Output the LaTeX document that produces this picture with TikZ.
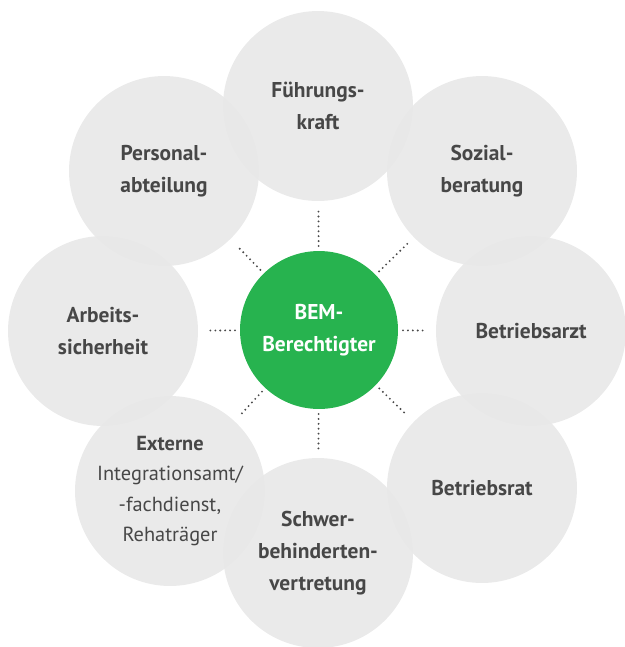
\documentclass[tikz,border=0pt]{standalone}
\usepackage{fontspec}
\setmainfont{PT Sans}
\usepackage{xcolor}
\usepackage{tikz}
\usetikzlibrary{positioning,calc}

\definecolor{bemgreen}{HTML}{27B34F}
\definecolor{bubblegray}{HTML}{E8E8E8}
\definecolor{textgray}{HTML}{474747}
\definecolor{dotgray}{HTML}{4A4A4A}

\begin{document}
\begin{tikzpicture}[
    x=0.02cm, y=-0.02cm,
    bubble/.style={circle, fill=bubblegray, fill opacity=0.9, text opacity=1,
        minimum size=3.8cm, inner sep=0pt, outer sep=0pt, align=center,
        text=textgray, font=\fontsize{12.2}{18}\selectfont\bfseries},
    bem/.style={circle, fill=bemgreen, minimum size=3.16cm, inner sep=0pt,
        outer sep=0pt, align=center, text=white,
        font=\fontsize{12.2}{18}\selectfont\bfseries},
    spoke/.style={dotgray, line width=1.2pt, dash pattern=on 0pt off 2.8pt,
        line cap=round, shorten <=0.1cm, shorten >=0.18cm}
]
\useasboundingbox (0,0) rectangle (625,647);

% Outer bubbles
\node[bubble] (fk)   at (318,106) {Führungs-\\kraft};
\node[bubble] (pers) at (164,171) {Personal-\\abteilung};
\node[bubble] (soz)  at (482,171) {Sozial-\\beratung};
\node[bubble] (arb)  at (103,331) {Arbeits-\\sicherheit};
\node[bubble] (arzt) at (531,331) {Betriebsarzt};
\node[bubble, font=\fontsize{11.6}{17.4}\selectfont] (ext) at (170,491)
    {\textbf{Externe}\\Integrationsamt/\\-fachdienst,\\Rehaträger};
\node[bubble] (rat)  at (482,488) {Betriebsrat};
\node[bubble] (sbv)  at (318,553) {Schwer-\\behinderten-\\vertretung};

% Centre
\node[bem] (bem) at (319,330) {BEM-\\Berechtigter};

% Dotted spokes
\foreach \o in {fk,soz,arzt,rat,sbv,ext,arb,pers}
    \draw[spoke] (bem) -- (\o);

\end{tikzpicture}
\end{document}
